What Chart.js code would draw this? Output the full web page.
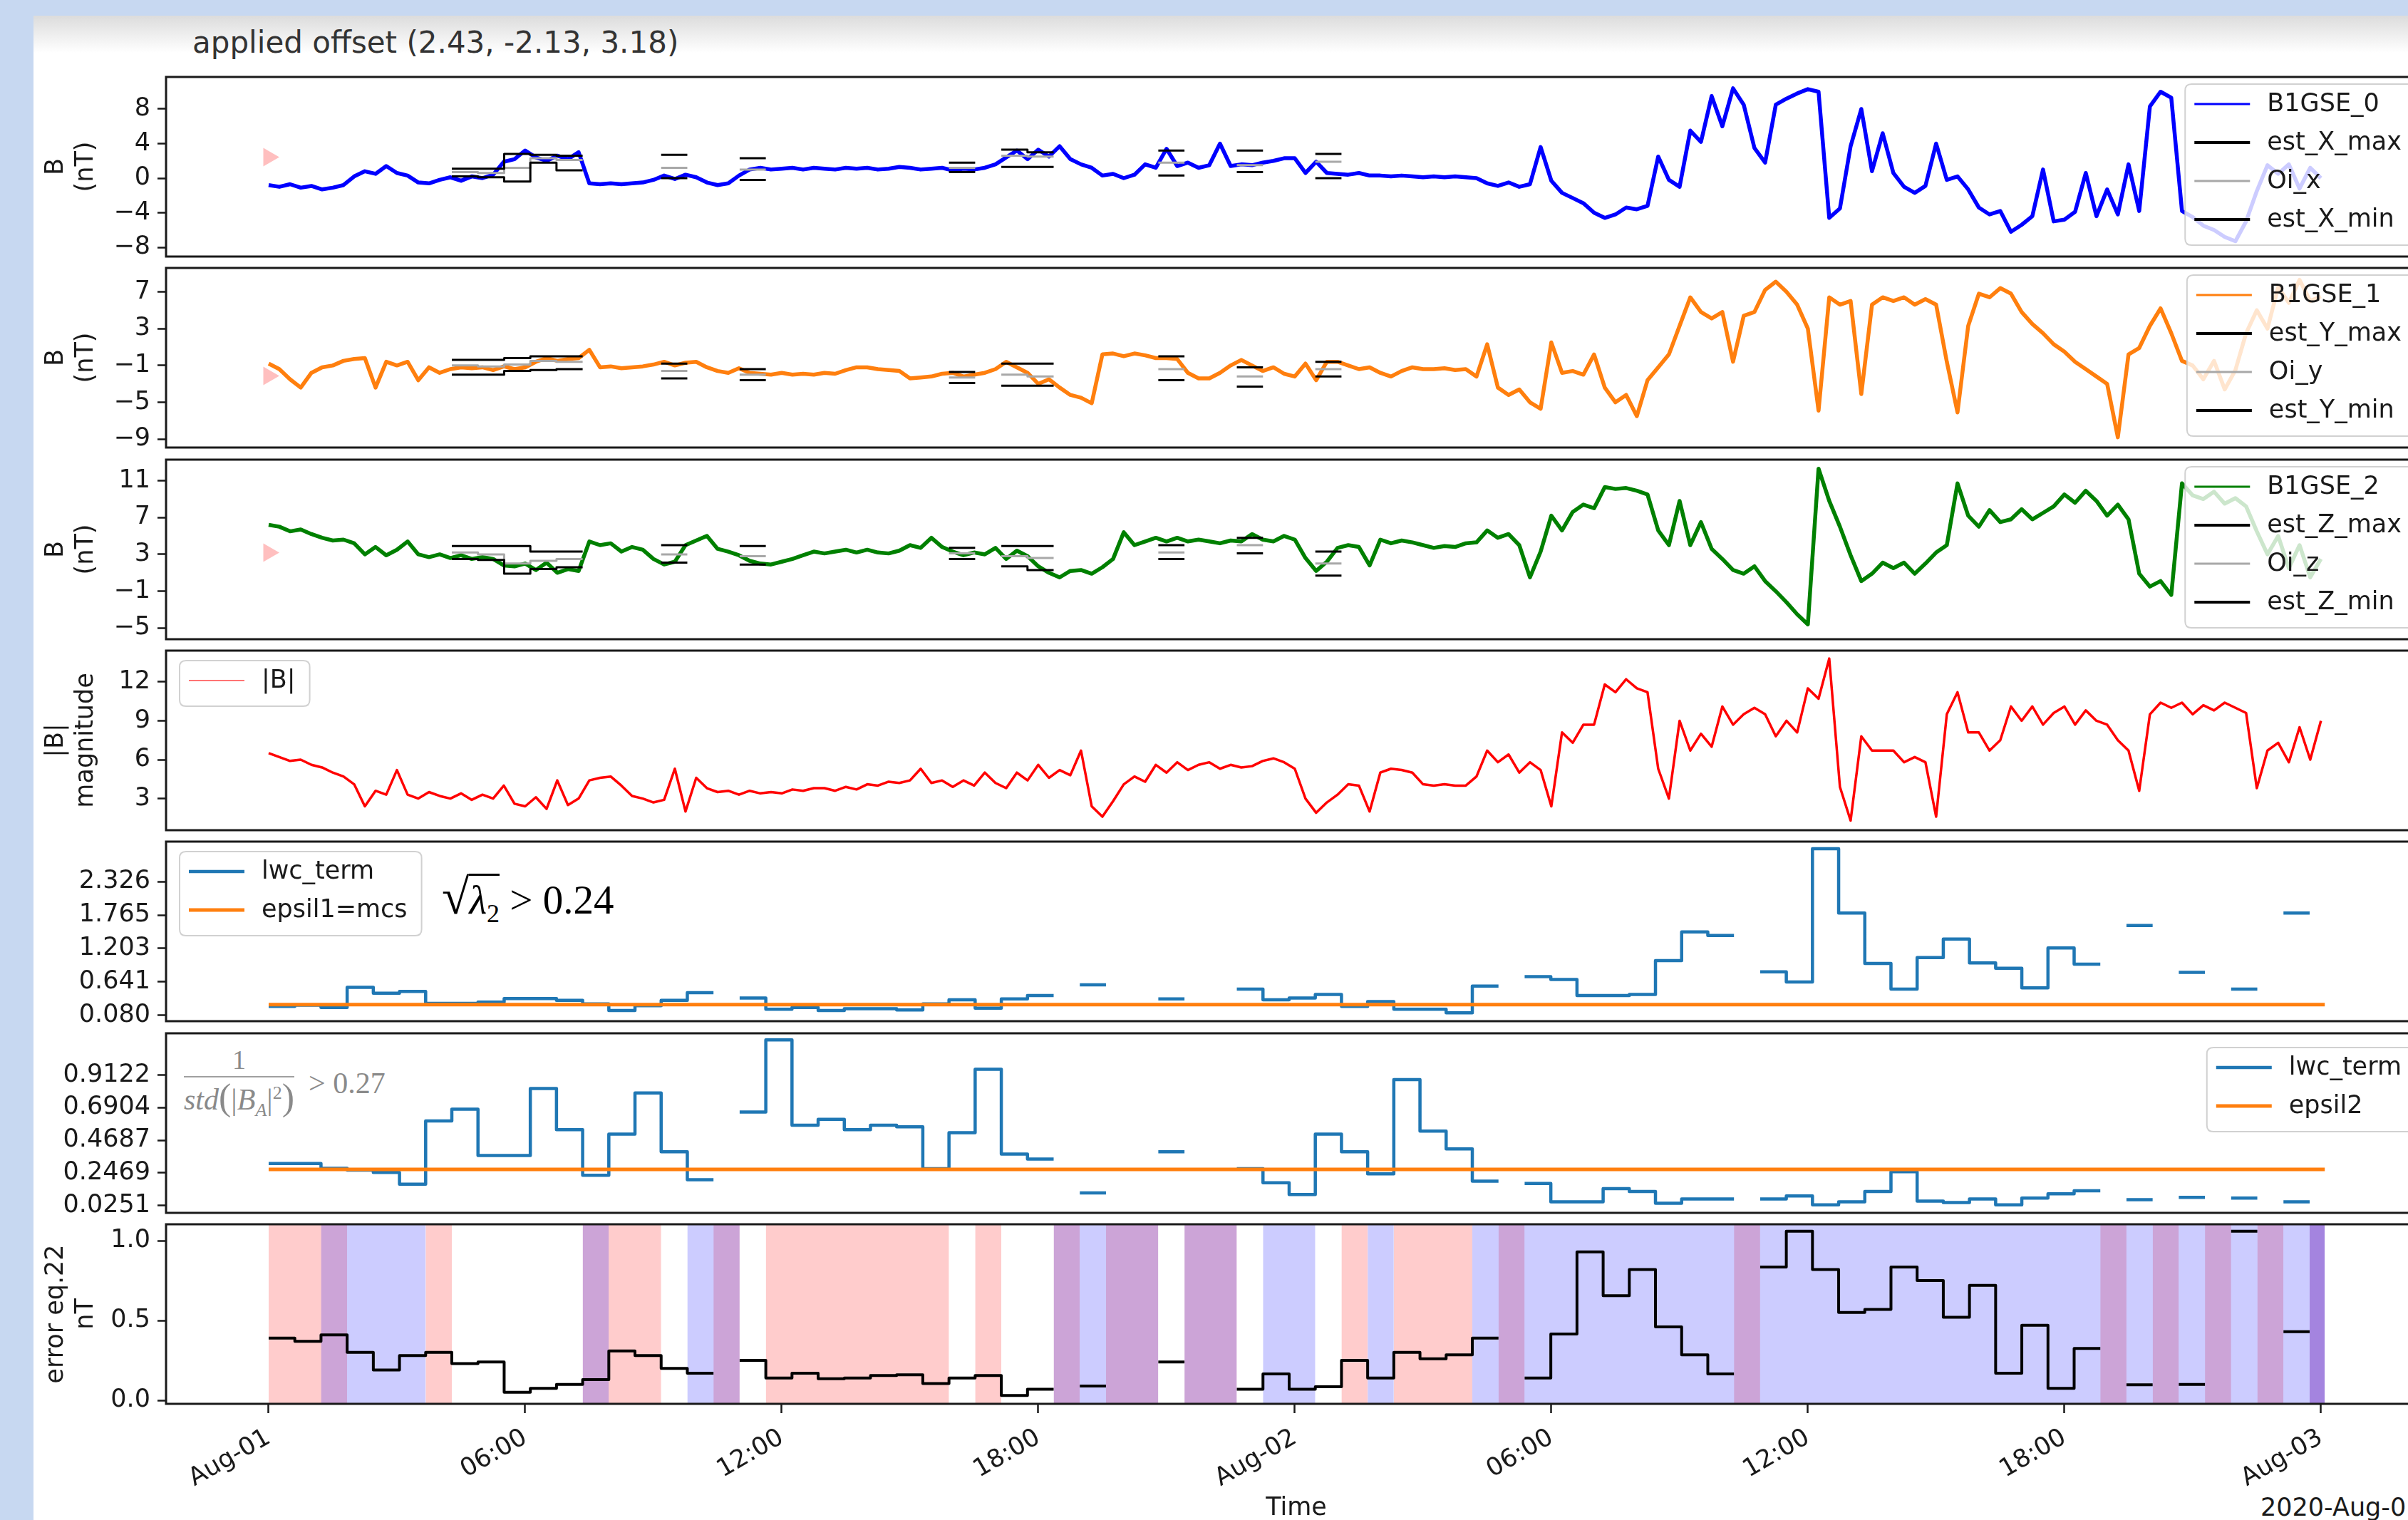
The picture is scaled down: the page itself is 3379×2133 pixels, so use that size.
<!DOCTYPE html>
<html>
<head>
<meta charset="utf-8">
<script src="https://cdn.jsdelivr.net/npm/chart.js@4.4.1/dist/chart.umd.min.js"></script>
<style>
  html, body { margin: 0; padding: 0; }
  body { width: 3379px; height: 2133px; overflow: hidden; position: relative; background: #c7d8f1; font-family: "DejaVu Sans", sans-serif; }
  #fig { position: absolute; left: 47px; top: 22px; width: 3332px; height: 2111px; background: linear-gradient(#dcdcdc, #ffffff 52px); }
  .txt { position: absolute; white-space: nowrap; color: #1a1a1a; line-height: 1; }
  .serif { font-family: "Liberation Serif", "DejaVu Serif", serif; }
</style>
</head>
<body>
<div id="fig"></div>
<div class="txt" style="left:270px; top:39px; font-size:42px; color:#333;">applied offset (2.43, -2.13, 3.18)</div>
<div class="txt serif" style="left:620px; top:1224px; font-size:57px; color:#000;">
  <span style="font-size:70px">&radic;</span><span style="border-top:3px solid #000; padding-top:2px"><i>&lambda;</i><sub style="font-size:36px">2</sub></span> &gt; 0.24
</div>
<div class="txt serif" style="left:258px; top:1468px; font-size:42px; color:#8a8a8a; display:flex; align-items:center;">
  <div style="display:flex; flex-direction:column; align-items:center;">
    <span style="padding-bottom:4px; font-size:38px">1</span>
    <span style="border-top:2px solid #a0a0a0; padding-top:2px"><i>std</i><span style="font-size:52px">(</span>|<i>B<sub style="font-size:26px">A</sub></i>|<sup style="font-size:26px">2</sup><span style="font-size:52px">)</span></span>
  </div>
  <span style="margin-left:20px">&gt; 0.27</span>
</div>
<div class="txt" style="left:3172px; top:2098px; font-size:35px;">2020-Aug-01</div>

<script>
// time axis in hours after 2020-08-01 00:00
const sampleStep = 0.25;      // spacing of the field samples (h)
const winWidth = 0.612;       // width of one analysis window (h)
const dataEnd = 48.09;
const xTickHours = [0, 6, 12, 18, 24, 30, 36, 42, 48];
const xTickLabels = ['Aug-01', '06:00', '12:00', '18:00', 'Aug-02', '06:00', '12:00', '18:00', 'Aug-03'];

const appliedOffset = [2.43, -2.13, 3.18];

// B1GSE components and magnitude (nT), one value every 15 min
const bx = [
  -0.8,-1.0,-0.7,-1.1, -0.9,-1.3,-1.1,-0.8,
  0.2,0.8,0.5,1.4, 0.6,0.3,-0.5,-0.6,
  -0.2,0.1,-0.3,0.2, 0.0,0.4,1.9,2.2,
  3.2,2.4,2.0,2.6, 2.2,3.0,-0.6,-0.7,
  -0.6,-0.7,-0.6,-0.5, -0.2,0.3,-0.1,0.4,
  0.1,-0.5,-0.8,-0.6, 0.3,1.0,1.2,1.0,
  1.1,1.2,1.0,1.2, 1.1,1.0,1.2,1.1,
  1.2,1.0,1.1,1.3, 1.2,1.0,1.1,1.2,
  0.9,1.1,1.0,1.2, 1.6,2.4,3.2,2.2,
  3.3,2.5,3.7,2.2, 1.6,1.2,0.3,0.5,
  0.0,0.4,1.6,1.2, 3.4,1.4,1.8,1.2,
  1.5,4.0,1.4,1.6, 1.5,1.8,2.0,2.3,
  2.3,0.6,1.9,0.6, 0.5,0.4,0.6,0.3,
  0.3,0.2,0.3,0.2, 0.1,0.2,0.1,0.2,
  0.1,0.0,-0.6,-0.9, -0.5,-1.0,-0.7,3.6,
  -0.3,-1.7,-2.3,-2.9, -4.0,-4.6,-4.2,-3.4,
  -3.6,-3.2,2.5,-0.2, -1.0,5.5,4.2,9.5,
  6.0,10.4,8.5,3.5, 1.8,8.5,9.2,9.8,
  10.3,10.0,-4.6,-3.5, 3.7,8.0,0.8,5.2,
  0.6,-1.0,-1.7,-0.9, 4.0,-0.2,0.2,-1.3,
  -3.4,-4.2,-3.8,-6.2, -5.4,-4.4,1.0,-5.0,
  -4.8,-3.9,0.6,-4.4, -1.3,-4.2,1.6,-3.8,
  8.3,10.0,9.3,-3.8, -4.5,-5.5,-6.0,-6.8,
  -7.3,-5.0,-1.5,1.5, 0.5,1.6,-1.2,1.2,
  0.0
];
const by = [
  -0.8,-1.4,-2.5,-3.4, -1.8,-1.2,-1.0,-0.5,
  -0.3,-0.2,-3.4,-0.6, -1.0,-0.6,-2.6,-1.2,
  -1.8,-1.4,-1.2,-1.3, -1.2,-1.5,-1.1,-1.4,
  -1.2,-0.6,-0.2,-0.5, -0.3,-0.2,0.7,-1.2,
  -1.1,-1.3,-1.2,-1.1, -0.9,-0.6,-1.0,-0.7,
  -0.6,-1.2,-1.6,-1.8, -1.3,-1.8,-1.9,-2.0,
  -1.8,-2.0,-1.9,-2.0, -1.8,-1.9,-1.5,-1.2,
  -1.2,-1.4,-1.5,-1.6, -2.4,-2.3,-2.2,-1.9,
  -1.8,-2.2,-2.0,-1.8, -1.4,-0.6,-1.2,-1.8,
  -3.0,-2.5,-3.4,-4.2, -4.5,-5.1,0.2,0.3,
  0.0,0.3,0.1,-0.2, -0.2,-0.3,-1.8,-2.4,
  -2.4,-1.8,-1.0,-0.4, -1.0,-1.6,-1.2,-1.9,
  -2.2,-0.8,-2.6,-0.6, -0.6,-1.0,-1.4,-1.2,
  -1.8,-2.2,-1.6,-1.2, -1.4,-1.4,-1.3,-1.5,
  -1.4,-2.2,1.3,-3.4, -4.2,-3.6,-5.0,-5.7,
  1.5,-1.8,-1.6,-2.0, 0.2,-3.4,-5.0,-4.2,
  -6.5,-2.6,-1.2,0.2, 3.3,6.4,4.8,4.1,
  4.8,-0.6,4.4,4.8, 7.2,8.1,7.0,5.6,
  3.0,-5.9,6.4,5.6, 6.0,-4.1,5.6,6.4,
  6.0,6.4,5.6,6.2, 5.6,-0.6,-6.1,3.3,
  6.8,6.4,7.4,6.8, 4.8,3.5,2.5,1.3,
  0.5,-0.6,-1.4,-2.2, -3.0,-8.8,0.2,0.9,
  3.3,5.2,2.5,-0.5, -1.0,-2.5,-0.5,-3.6,
  -1.5,2.5,5.0,3.0, 7.5,5.8,8.3,6.0,
  6.5
];
const bz = [
  6.2,6.0,5.5,5.7, 5.2,4.8,4.5,4.6,
  4.2,3.0,3.8,2.9, 3.5,4.4,3.0,2.7,
  3.0,2.6,2.9,2.5, 2.7,2.5,1.8,1.7,
  2.0,1.3,2.1,1.0, 1.4,1.2,4.4,4.0,
  4.2,3.3,3.8,3.5, 2.5,1.9,2.2,4.0,
  4.5,5.0,3.6,3.3, 2.9,2.3,2.0,1.9,
  2.2,2.5,2.9,3.3, 3.1,3.3,3.5,3.2,
  3.5,3.2,3.1,3.4, 4.0,3.7,4.8,3.8,
  3.3,2.9,3.2,3.0, 3.7,2.5,3.4,2.8,
  1.7,1.0,0.5,1.2, 1.3,0.9,1.6,2.5,
  5.4,4.0,4.4,4.8, 4.4,4.8,4.4,4.6,
  4.4,4.2,4.5,4.4, 5.2,4.6,4.4,5.0,
  4.6,2.6,1.2,2.2, 3.7,4.0,3.8,1.8,
  4.6,4.2,4.5,4.3, 4.0,3.7,3.9,3.8,
  4.2,4.3,5.6,4.8, 5.2,4.0,0.5,3.3,
  7.2,5.6,7.6,8.4, 8.0,10.3,10.1,10.2,
  9.9,9.5,5.6,4.0, 8.8,4.0,6.5,3.6,
  2.5,1.3,0.9,1.7, 0.1,-1.0,-2.2,-3.5,
  -4.6,12.3,8.8,6.0, 2.9,0.1,0.9,2.1,
  1.5,2.1,0.9,2.0, 3.2,4.0,10.7,7.2,
  6.0,7.8,6.5,6.8, 7.9,6.8,7.5,8.2,
  9.5,8.6,9.9,8.8, 7.2,8.4,6.8,0.9,
  -0.5,0.1,-1.4,10.7, 9.4,9.0,9.8,8.5,
  9.1,8.2,5.5,3.0, 5.0,1.5,4.0,0.5,
  2.5
];
const bmag = [
  6.5,6.2,5.9,6.0, 5.6,5.4,5.0,4.7,
  4.1,2.4,3.6,3.3, 5.2,3.3,3.0,3.5,
  3.2,3.0,3.4,2.9, 3.3,3.0,4.0,2.6,
  2.4,3.1,2.2,4.4, 2.5,3.0,4.4,4.6,
  4.7,4.0,3.2,3.0, 2.7,2.9,5.3,2.0,
  4.6,3.8,3.5,3.6, 3.3,3.6,3.4,3.5,
  3.4,3.7,3.6,3.8, 3.8,3.6,3.9,3.7,
  4.1,4.0,4.3,4.2, 4.4,5.3,4.2,4.4,
  3.9,4.4,4.0,5.0, 4.2,3.8,5.0,4.4,
  5.6,4.6,5.2,4.8, 6.7,2.4,1.6,2.8,
  4.1,4.7,4.3,5.6, 5.0,5.8,5.2,5.6,
  5.8,5.3,5.6,5.4, 5.5,5.9,6.1,5.8,
  5.3,3.0,1.9,2.7, 3.3,4.1,4.0,2.0,
  5.0,5.3,5.2,5.0, 4.1,4.0,4.1,4.0,
  4.0,4.7,6.7,5.8, 6.4,5.0,5.8,5.2,
  2.4,8.1,7.3,8.7, 8.7,11.8,11.2,12.2,
  11.5,11.2,5.3,3.0, 9.0,6.7,8.0,7.0,
  10.1,8.7,9.5,10.0, 9.5,7.8,9.0,8.1,
  11.5,10.7,13.8,3.9, 1.3,7.8,6.7,6.7,
  6.7,5.8,6.2,5.8, 1.6,9.5,11.2,8.1,
  8.1,6.7,7.5,10.1, 9.0,10.1,8.7,9.6,
  10.1,8.7,9.8,9.0, 8.7,7.5,6.7,3.6,
  9.5,10.4,10.0,10.4, 9.5,10.2,9.8,10.4,
  10.0,9.6,3.8,6.7, 7.3,5.8,8.5,6.0,
  9.0
];

// windows that got an offset estimate, and the estimates per component
const estBins = [7, 8, 9, 10, 11, 15, 18, 26, 28, 29, 34, 37, 40];
const estXmax = [1.1, 1.1, 2.8, 2.7, 2.6, 2.7, 2.3, 1.8, 3.3, 3.0, 3.2, 3.2, 2.8];
const estXoi  = [0.7, 0.6, 1.2, 2.3, 2.1, 1.2, 1.0, 1.2, 2.6, 2.5, 1.8, 1.5, 1.9];
const estXmin = [0.2, 0.1, -0.4, 1.8, 0.9, 0.0, -0.2, 0.7, 1.3, 1.3, 0.3, 0.7, 0.0];
const estYmax = [-0.4, -0.4, -0.2, 0.0, 0.0, -0.8, -1.4, -1.7, -0.8, -0.8, 0.0, -1.2, -0.6];
const estYoi  = [-1.0, -1.1, -0.9, -0.5, -0.6, -1.6, -2.0, -2.3, -2.0, -2.2, -1.4, -2.2, -1.4];
const estYmin = [-2.0, -2.0, -1.6, -1.5, -1.4, -2.4, -2.6, -2.9, -3.2, -3.2, -2.6, -3.3, -2.2];
const estZmax = [3.9, 3.9, 3.9, 3.3, 3.3, 4.0, 3.9, 3.7, 3.9, 3.9, 4.0, 4.8, 3.3];
const estZoi  = [3.2, 3.0, 2.0, 2.3, 2.5, 3.0, 2.8, 3.1, 2.8, 2.6, 3.2, 4.0, 2.0];
const estZmin = [2.5, 2.4, 0.9, 1.4, 1.6, 2.1, 1.9, 2.5, 1.7, 1.3, 2.5, 3.1, 0.7];

// per-window criteria (null = no value)
const lwcLambda = [
  0.23,0.25,0.21,0.55,0.45,0.48,0.28,0.28,0.30,0.36,
  0.36,0.33,0.27,0.16,0.24,0.33,0.46,null,0.37,0.18,
  0.21,0.16,0.19,0.19,0.17,0.27,0.34,0.20,0.355,0.41,
  null,0.59,null,null,0.355,null,null,0.52,0.34,0.37,
  0.43,0.23,0.31,0.18,0.18,0.12,0.57,null,0.73,0.68,
  0.41,0.41,0.43,1.00,1.48,1.42,null,0.81,0.64,2.88,
  1.80,0.95,0.52,1.05,1.36,0.96,0.87,0.54,1.21,0.94,
  null,1.59,null,0.80,null,0.52,null,1.80,null
];
const epsil1 = 0.26;
const lwcStd = [
  0.31,0.31,0.277,0.265,0.25,0.17,0.60,0.68,0.365,0.365,
  0.82,0.54,0.23,0.51,0.79,0.39,0.20,null,0.66,1.15,
  0.57,0.61,0.54,0.57,0.56,0.275,0.52,0.95,0.375,0.34,
  null,0.11,null,null,0.39,null,null,0.275,0.18,0.10,
  0.51,0.39,0.24,0.88,0.53,0.41,0.19,null,0.175,0.05,
  0.05,0.14,0.12,0.04,0.07,0.07,null,0.07,0.09,0.03,
  0.05,0.12,0.255,0.055,0.045,0.07,0.03,0.075,0.105,0.125,
  null,0.065,null,0.08,null,0.075,null,0.05,null
];
const epsil2 = 0.27;
const errEq22 = [
  0.39,0.37,0.41,0.30,0.19,0.28,0.30,0.23,0.24,0.05,
  0.075,0.10,0.13,0.31,0.28,0.20,0.17,null,0.25,0.14,
  0.17,0.135,0.14,0.155,0.16,0.105,0.14,0.155,0.03,0.07,
  null,0.09,null,null,0.24,null,null,0.07,0.165,0.07,
  0.085,0.25,0.14,0.30,0.26,0.285,0.39,null,0.14,0.415,
  0.93,0.655,0.82,0.46,0.285,0.165,null,0.835,1.06,0.82,
  0.55,0.57,0.835,0.75,0.52,0.72,0.17,0.47,0.075,0.325,
  null,0.097,null,0.10,null,1.06,null,0.43,null
];
// shading per window: r = red span, b = blue span, p = both, v = both + extra blue, n = none
const bandCodes = ('rrpbbbrnnn' + 'nnprrnbpnr' + 'rrrrrrnrnn' + 'pbppnppnbb' +
  'nrbrrrbpbb' + 'bbbbbbpbbb' + 'bbbbbbbbbb' + 'pbpbpbpbv').split('');

const ticksBx = [-8, -4, 0, 4, 8];
const ticksBy = [-9, -5, -1, 3, 7];
const ticksBz = [-5, -1, 3, 7, 11];
const ticksMag = [3, 6, 9, 12];
const ticksLambda = [0.080, 0.641, 1.203, 1.765, 2.326];
const ticksStd = [0.0251, 0.2469, 0.4687, 0.6904, 0.9122];
const ticksErr = [0.0, 0.5, 1.0];

const ink = '#1a1a1a';
Chart.defaults.font.family = '"DejaVu Sans"';
Chart.defaults.font.size = 35;
Chart.defaults.color = ink;

// helpers that turn the arrays into point tables
const series = vals => vals.map((v, i) => ({x: i * sampleStep, y: v}));
function steps(vals) {
  const pts = [];
  vals.forEach((v, i) => {
    const t0 = i * winWidth, t1 = Math.min(t0 + winWidth, dataEnd);
    if (v === null) pts.push({x: (t0 + t1) / 2, y: null});
    else pts.push({x: t0, y: v}, {x: t1, y: v});
  });
  return pts;
}
function spread(vals) {
  const out = bandCodes.map(() => null);
  estBins.forEach((b, k) => { out[b] = vals[k]; });
  return out;
}
const flat = v => [{x: 0, y: v}, {x: dataEnd, y: v}];

// matplotlib style legend box drawn on top of the data
const boxLegend = {
  id: 'boxLegend',
  afterDatasetsDraw(chart, args, opts) {
    if (!opts || !opts.side) return;
    const items = chart.data.datasets.filter(d => d.label);
    const ctx = chart.ctx, a = chart.chartArea;
    ctx.save();
    ctx.font = '35px "DejaVu Sans"';
    const textW = Math.max(...items.map(d => ctx.measureText(d.label).width));
    const w = 135 + textW, h = items.length * 54 + 10;
    const x = opts.side === 'right' ? a.right - 15 - w : a.left + 19;
    const y = a.top + opts.top;
    const r = 9;
    ctx.beginPath();
    ctx.moveTo(x + r, y); ctx.lineTo(x + w - r, y); ctx.quadraticCurveTo(x + w, y, x + w, y + r);
    ctx.lineTo(x + w, y + h - r); ctx.quadraticCurveTo(x + w, y + h, x + w - r, y + h);
    ctx.lineTo(x + r, y + h); ctx.quadraticCurveTo(x, y + h, x, y + h - r);
    ctx.lineTo(x, y + r); ctx.quadraticCurveTo(x, y, x + r, y);
    ctx.closePath();
    ctx.fillStyle = 'rgba(255,255,255,0.8)'; ctx.fill();
    ctx.strokeStyle = 'rgba(204,204,204,0.9)'; ctx.lineWidth = 2; ctx.stroke();
    ctx.textBaseline = 'middle'; ctx.textAlign = 'left';
    items.forEach((d, i) => {
      const cy = y + 28 + i * 54;
      ctx.beginPath(); ctx.moveTo(x + 13, cy); ctx.lineTo(x + 91, cy);
      ctx.strokeStyle = d.legendColor || d.borderColor;
      ctx.lineWidth = d.legendWidth || d.borderWidth;
      ctx.stroke();
      ctx.fillStyle = ink;
      ctx.fillText(d.label, x + 115, cy + 1);
    });
    ctx.restore();
  }
};
const frame = {
  id: 'frame',
  afterDraw(chart) {
    const {ctx, chartArea: a} = chart;
    ctx.save();
    ctx.strokeStyle = ink; ctx.lineWidth = 3;
    ctx.strokeRect(a.left, a.top, a.right - a.left, a.bottom - a.top);
    ctx.restore();
  }
};
Chart.register(boxLegend, frame);

const panelHeight = 252;
const fmt = (dec) => v => (v < 0 ? '\u2212' : '') + Math.abs(v).toFixed(dec);

function makePanel(p, datasets) {
  const cv = document.createElement('canvas');
  const top = p.top - 30;
  const height = p.last ? 2133 - top : panelHeight + 60;
  cv.width = 3425; cv.height = height;
  cv.style.cssText = `position:absolute;left:0;top:${top}px;width:3425px;height:${height}px`;
  document.body.appendChild(cv);
  const tickGrid = {display: true, drawOnChartArea: false, drawTicks: true, tickLength: 12, tickWidth: 2.5, tickColor: ink};
  new Chart(cv, {
    type: 'line',
    data: {datasets},
    options: {
      responsive: false, animation: false, devicePixelRatio: 1, events: [],
      layout: {padding: {top: 30, bottom: p.last ? 0 : 30, left: 0, right: 20}},
      elements: {point: {radius: 0}, line: {tension: 0, borderJoinStyle: 'round'}},
      plugins: {legend: {display: false}, tooltip: {enabled: false}, boxLegend: p.legend || {}},
      scales: {
        x: {
          type: 'linear', min: -2.4, max: 50.47, display: !!p.last,
          afterBuildTicks: s => { s.ticks = xTickHours.map(v => ({value: v})); },
          afterFit: s => {
            if (!p.last) return;
            s.height = 163; s.paddingLeft = 0; s.paddingRight = 0;
          },
          ticks: {autoSkip: false, minRotation: 30, maxRotation: 30, padding: 14,
                  callback: v => xTickLabels[xTickHours.indexOf(v)]},
          grid: Object.assign({}, tickGrid, {tickLength: 13}),
          border: {display: false},
          title: {display: true, text: 'Time', padding: {top: 0, bottom: -5}}
        },
        y: {
          type: 'linear', min: p.min, max: p.max,
          afterBuildTicks: s => { s.ticks = p.ticks.map(v => ({value: v})); },
          afterFit: s => { s.width = 233; s.paddingTop = 0; s.paddingBottom = 0; },
          ticks: {padding: 10, callback: fmt(p.dec)},
          grid: tickGrid,
          border: {display: false},
          title: {display: !!p.title, text: p.title, padding: {top: 58, bottom: 0}}
        }
      }
    }
  });
}

function componentSets(vals, color, name, axis, off, emax, eoi, emin) {
  return [
    {label: name, data: series(vals), borderColor: color, borderWidth: 5.5, legendWidth: 3, order: 4},
    {label: 'est_' + axis + '_max', data: steps(spread(emax)), borderColor: '#000', borderWidth: 3, legendWidth: 4, order: 1},
    {label: 'Oi_' + axis.toLowerCase(), data: steps(spread(eoi)), borderColor: '#a8a8a8', borderWidth: 3, legendWidth: 3, order: 2},
    {label: 'est_' + axis + '_min', data: steps(spread(emin)), borderColor: '#000', borderWidth: 3, legendWidth: 4, order: 1},
    {data: [{x: 0, y: off}], showLine: false, pointStyle: 'triangle', rotation: 90, pointRadius: 15,
     pointBackgroundColor: 'rgba(255,0,0,0.25)', pointBorderWidth: 0, order: 0}
  ];
}

makePanel({top: 108, min: -9.07, max: 11.71, ticks: ticksBx, dec: 0, title: ['B', '(nT)'], legend: {side: 'right', top: 10}},
  componentSets(bx, '#0000ff', 'B1GSE_0', 'X', appliedOffset[0], estXmax, estXoi, estXmin));
makePanel({top: 376, min: -9.91, max: 9.59, ticks: ticksBy, dec: 0, title: ['B', '(nT)'], legend: {side: 'right', top: 10}},
  componentSets(by, '#ff7f0e', 'B1GSE_1', 'Y', appliedOffset[1], estYmax, estYoi, estYmin));
makePanel({top: 645, min: -6.21, max: 13.28, ticks: ticksBz, dec: 0, title: ['B', '(nT)'], legend: {side: 'right', top: 10}},
  componentSets(bz, '#008000', 'B1GSE_2', 'Z', appliedOffset[2], estZmax, estZoi, estZmin));

makePanel({top: 913, min: 0.56, max: 14.41, ticks: ticksMag, dec: 0, title: ['|B|', 'magnitude'], legend: {side: 'left', top: 14}}, [
  {label: '|B|', data: series(bmag), borderColor: '#ff0000', borderWidth: 3.5, legendColor: 'rgba(255,0,0,0.55)', legendWidth: 2}
]);

makePanel({top: 1181, min: -0.02, max: 3.0, ticks: ticksLambda, dec: 3, legend: {side: 'left', top: 14}}, [
  {label: 'lwc_term', data: steps(lwcLambda), borderColor: '#1f77b4', borderWidth: 4.5, order: 1},
  {label: 'epsil1=mcs', data: flat(epsil1), borderColor: '#ff7f0e', borderWidth: 5, order: 0}
]);

makePanel({top: 1450, min: -0.025, max: 1.195, ticks: ticksStd, dec: 4, legend: {side: 'right', top: 20}}, [
  {label: 'lwc_term', data: steps(lwcStd), borderColor: '#1f77b4', borderWidth: 4.5, order: 1},
  {label: 'epsil2', data: flat(epsil2), borderColor: '#ff7f0e', borderWidth: 5, order: 0}
]);

const bandTop = 5;
const band = codes => steps(bandCodes.map(c => codes.includes(c) ? bandTop : null));
makePanel({top: 1718, min: -0.022, max: 1.103, ticks: ticksErr, dec: 1, title: ['error eq.22', 'nT'], last: true}, [
  {data: steps(errEq22), borderColor: '#000', borderWidth: 4, order: 0},
  {data: band('rpv'), fill: 'start', backgroundColor: 'rgba(255,0,0,0.2)', borderColor: 'transparent', borderWidth: 0, order: 3},
  {data: band('bpv'), fill: 'start', backgroundColor: 'rgba(0,0,255,0.2)', borderColor: 'transparent', borderWidth: 0, order: 2},
  {data: band('v'), fill: 'start', backgroundColor: 'rgba(0,0,255,0.2)', borderColor: 'transparent', borderWidth: 0, order: 1}
]);
</script>
</body>
</html>
